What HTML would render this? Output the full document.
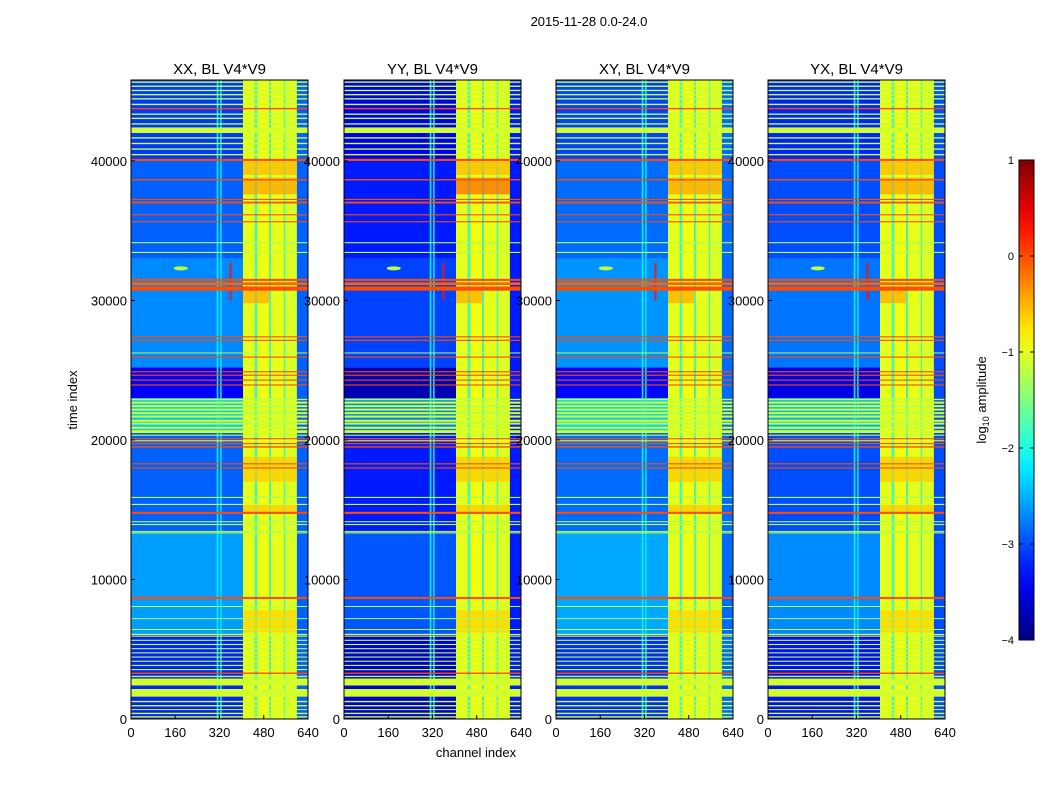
<!DOCTYPE html>
<html><head><meta charset="utf-8">
<style>
html,body{margin:0;padding:0;background:#fff;}
body{width:1050px;height:800px;overflow:hidden;font-family:"Liberation Sans",sans-serif;}
svg text{font-family:"Liberation Sans",sans-serif;}
</style></head>
<body>
<svg id="fig" width="1050" height="800" xmlns="http://www.w3.org/2000/svg">
<text x="589" y="26" font-size="13" text-anchor="middle">2015-11-28 0.0-24.0</text>
<text x="476" y="757" font-size="13" text-anchor="middle">channel index</text>
<text transform="translate(77,400) rotate(-90)" font-size="13" text-anchor="middle">time index</text>
</svg>
<script>
// ---- data ----
const panelTitles = ["XX, BL V4*V9","YY, BL V4*V9","XY, BL V4*V9","YX, BL V4*V9"];
const panelBgOffset = [0, -0.35, 0.05, -0.1];
const xTicks = [0,160,320,480,640];
const yTicks = [0,10000,20000,30000,40000];
const cbTicks = [1,0,-1,-2,-3,-4];
// background time bands
const bgStart = [0,6100,13400,20700,23000,25200,33000,40000];
const bgEnd   = [6100,13400,20700,23000,25200,33000,40000,45800];
const bgVal   = [-3.2,-2.6,-2.9,-2.4,-3.4,-2.7,-2.9,-3.1];
// bright channel columns
const colStart = [310,322,405,448,456,500,506,553,557,600];
const colEnd   = [316,328,448,456,500,506,553,557,600,640];
const colVal   = [-2.2,-2.3,-1.0,-1.9,-0.95,-1.8,-1.0,-1.9,-1.05,-2.9];
// patches inside bright columns (time range, channel range, value)
const patchT0 = [37600,39000,29800,17000,14800,6200,30000];
const patchT1 = [38800,40000,31000,18800,15400,7800,32700];
const patchC0 = [405,405,405,405,405,405,355];
const patchC1 = [600,600,500,600,600,600,364];
const patchV  = [-0.4,-0.5,-0.45,-0.6,-0.6,-0.65,0.3];
// horizontal lines (time start, time end, value)
const lineStart = [100,350,650,900,1200,1600,2400,3000,3230,3500,3800,4100,4400,4700,5000,5300,5600,5900,6020,6380,7170,8030,8600,
  13300,13420,13900,14100,14700,15340,15840,17950,18250,19450,19700,19900,20050,20300,20500,20800,21100,21300,21600,21850,22100,22350,22600,22850,
  23900,24250,24600,24850,25900,26200,27100,27350,30700,31100,31400,33400,34100,35600,36100,36950,37200,38600,
  40000,40400,40800,41200,41600,42000,42050,42600,43000,43300,43700,44000,44400,44700,45000,45300,45600];
const lineEnd = [200,450,0,1000,1300,2150,2900,3100,3330,3580,3880,4180,4480,4780,5080,5380,5680,5980,6100,6450,7230,8100,8750,
  13380,13480,13980,14180,14850,15420,15920,18030,18330,19550,19780,19980,20130,20380,20700,20950,21250,21450,21750,22000,22250,22500,22750,22950,
  23980,24330,24680,24930,25980,26270,27180,27430,31000,31300,31550,33480,34180,35680,36180,37080,37280,38700,
  40150,40500,40900,41300,41700,42100,42400,42700,43100,43400,43800,44100,44500,44800,45100,45400,45700];
const lineVal = [-1.1,-1.1,-1.1,-1.1,-1.1,-1.1,-1.1,-1.2,0.0,-1.1,-1.2,-1.1,-1.2,-1.1,-1.2,-1.1,-1.2,-1.1,-1.1,-1.2,-1.3,-1.2,0.0,
  -1.2,-1.3,-1.2,-1.3,0.0,-1.1,-1.3,0.0,0.0,0.0,0.0,-1.0,0.0,-1.2,-1.1,-1.1,-1.2,-1.1,-1.1,-1.2,-1.1,-1.2,-1.1,-1.2,
  0.0,0.0,0.0,0.0,0.0,-1.2,0.0,0.0,0.0,-0.1,0.0,-1.2,-1.3,0.0,0.0,0.0,0.0,0.0,
  0.0,-1.1,-1.2,-1.1,-1.2,-1.1,-1.1,-1.2,-1.1,-1.2,0.0,-1.1,-1.2,-1.1,-1.2,-1.1,-1.1];
// ---- layout ----
const NS="http://www.w3.org/2000/svg";
const svg=document.getElementById('fig');
const panelX=[131,344,556,768], PW=177, PT=80, PB=719, TMAX=45800, CMAX=640;
function jet(v){ // v in [-4,1]
  let t=Math.max(0,Math.min(1,(v+4)/5));
  const f=(x)=>Math.max(0,Math.min(1,1.5-Math.abs(4*t-x)));
  const r=f(3),g=f(2),b=f(1);
  return `rgb(${Math.round(r*255)},${Math.round(g*255)},${Math.round(b*255)})`;
}
function mk(tag,attrs,parent){const e=document.createElementNS(NS,tag);for(const k in attrs)e.setAttribute(k,attrs[k]);(parent||svg).appendChild(e);return e;}
panelX.forEach((px,pi)=>{
  const g=mk('g',{});
  
  
  const xs=c=>px+c/CMAX*PW;
  const ys=t=>PB-t/TMAX*(PB-PT);
  bgStart.forEach((s,i)=>{
    const r=mk('rect',{x:px,y:ys(bgEnd[i]),width:PW,height:ys(s)-ys(bgEnd[i]),fill:jet(bgVal[i]+panelBgOffset[pi])},g);
    
    
  });
  colStart.forEach((s,i)=>{
    const r=mk('rect',{x:xs(s),y:PT,width:xs(colEnd[i])-xs(s),height:PB-PT,fill:jet(colVal[i]+(i===9?panelBgOffset[pi]:0))},g);
    
    
  });
  patchT0.forEach((s,i)=>{
    const r=mk('rect',{x:xs(patchC0[i]),y:ys(patchT1[i]),width:xs(patchC1[i])-xs(patchC0[i]),height:ys(s)-ys(patchT1[i]),fill:jet(patchV[i]+(pi===1&&i===0?0.3:0)),opacity:0.7},g);
    
    
  });
  lineStart.forEach((s,i)=>{
    const e=Math.max(lineEnd[i],s+60);
    const r=mk('rect',{x:px,y:ys(e),width:PW,height:Math.max(1,ys(s)-ys(e)),fill:jet(lineVal[i])},g);
    
    
  });
  const spot=mk('ellipse',{cx:xs(180),cy:ys(32300),rx:7,ry:2,fill:jet(-1.2)},g);
  
  
  mk('rect',{x:px,y:PT,width:PW,height:PB-PT,fill:'none',stroke:'#000','stroke-width':1},g);
  const t=mk('text',{x:px+PW/2,y:74,'font-size':15,'text-anchor':'middle'},g);t.textContent=panelTitles[pi];
  
  
  xTicks.forEach(v=>{
    mk('line',{x1:xs(v),x2:xs(v),y1:PB,y2:PB-4,stroke:'#000'},g);
    const l=mk('text',{x:xs(v),y:737,'font-size':13,'text-anchor':'middle'},g);l.textContent=v;
    
    
  });
  yTicks.forEach(v=>{
    mk('line',{x1:px,x2:px+4,y1:ys(v),y2:ys(v),stroke:'#000'},g);
    const l=mk('text',{x:px-4,y:ys(v)+5,'font-size':13,'text-anchor':'end'},g);l.textContent=v;
    
    
  });
});
// colorbar
const defs=mk('defs',{});
const grad=mk('linearGradient',{id:'jetg',x1:0,y1:1,x2:0,y2:0},defs);
for(let i=0;i<=20;i++){mk('stop',{offset:(i/20),'stop-color':jet(-4+5*i/20)},grad);}
const cb=mk('rect',{x:1019,y:160,width:15,height:480,fill:'url(#jetg)',stroke:'#000'});


cbTicks.forEach(v=>{
  const y=160+(1-v)/5*480;
  mk('line',{x1:1019,x2:1023,y1:y,y2:y,stroke:'#000'});
  mk('line',{x1:1030,x2:1034,y1:y,y2:y,stroke:'#000'});
  const l=mk('text',{x:1014,y:y+4,'font-size':11,'text-anchor':'end'});l.textContent=(v<0?'\u2212'+(-v):v);
  
  
});
const cl=mk('text',{transform:'translate(986,400) rotate(-90)','font-size':13,'text-anchor':'middle'});
cl.innerHTML='log<tspan font-size="9" dy="3">10</tspan><tspan dy="-3"> amplitude</tspan>';


</script>
</body></html>
